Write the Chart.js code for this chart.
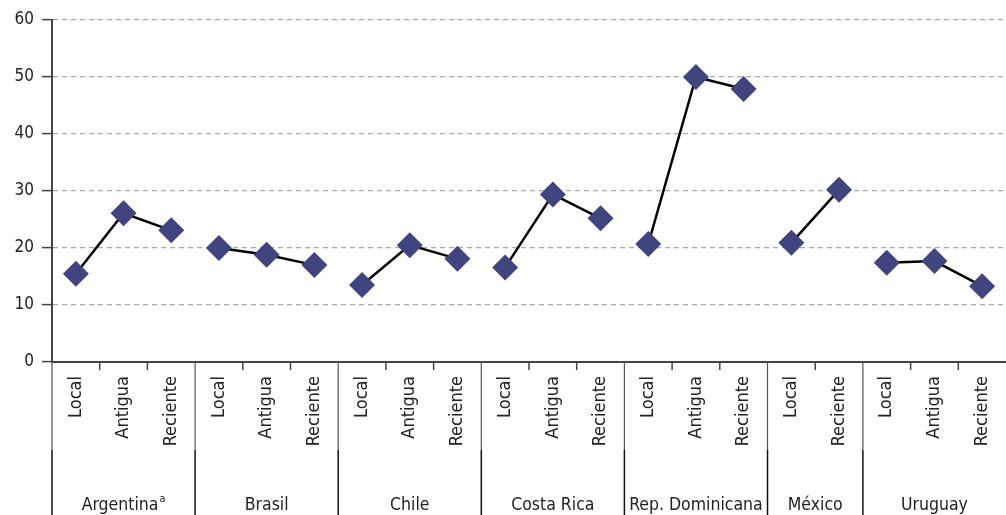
<!DOCTYPE html>
<html>
<head>
<meta charset="utf-8">
<script src="https://cdn.jsdelivr.net/npm/chart.js@4"></script>
<style>
  body { margin: 0; background: #fff; }
  #wrap { width: 1006px; height: 515px; position: relative; }
</style>
</head>
<body>
<div id="wrap"><canvas id="chart"></canvas></div>
<script>
// datos por país
const countries = ['Argentina', 'Brasil', 'Chile', 'Costa Rica', 'Rep. Dominicana', 'México', 'Uruguay'];
const countryNotes = ['a', '', '', '', '', '', ''];
const periods = [
  ['Local', 'Antigua', 'Reciente'],
  ['Local', 'Antigua', 'Reciente'],
  ['Local', 'Antigua', 'Reciente'],
  ['Local', 'Antigua', 'Reciente'],
  ['Local', 'Antigua', 'Reciente'],
  ['Local', 'Reciente'],
  ['Local', 'Antigua', 'Reciente']
];
const values = [
  [15.5, 26.1, 23.1],
  [20.0, 18.8, 17.0],
  [13.5, 20.5, 18.1],
  [16.6, 29.4, 25.2],
  [20.7, 50.0, 47.9],
  [20.9, 30.2],
  [17.4, 17.7, 13.3]
];
const yMin = 0, yMax = 60, yStep = 10;

const FONT = '"Liberation Sans Narrow", "DejaVu Sans Condensed", "Arial Narrow", sans-serif';
const TEXT = '#222';
const MARK = '#41447f';

// etiquetas planas y un dataset por país (líneas separadas)
const labels = periods.flat();
const datasets = [];
let start = 0;
countries.forEach((c, g) => {
  const data = labels.map(() => null);
  values[g].forEach((v, k) => { data[start + k] = v; });
  datasets.push({
    label: c,
    data: data,
    borderColor: '#000',
    borderWidth: 2.5,
    pointStyle: 'rectRot',
    pointRadius: 13,
    pointBackgroundColor: MARK,
    pointBorderColor: MARK,
    pointBorderWidth: 0,
    spanGaps: false
  });
  start += periods[g].length;
});

// grupos de países bajo el eje x
const groupPlugin = {
  id: 'groups',
  afterDraw(chart) {
    const { ctx, chartArea, scales: { x } } = chart;
    const base = chartArea.bottom;
    const half = (x.getPixelForValue(1) - x.getPixelForValue(0)) / 2;
    ctx.save();
    let i = 0;
    countries.forEach((name, g) => {
      const n = periods[g].length;
      const left = x.getPixelForValue(i) - half;
      const right = x.getPixelForValue(i + n - 1) + half;
      // separador
      ctx.strokeStyle = '#555';
      ctx.lineWidth = 1.2;
      ctx.beginPath();
      ctx.moveTo(left, base);
      ctx.lineTo(left, 450);
      ctx.stroke();
      ctx.strokeStyle = '#111';
      ctx.lineWidth = 1.5;
      ctx.beginPath();
      ctx.moveTo(left, 450);
      ctx.lineTo(left, chart.height);
      ctx.stroke();
      // marcas cortas dentro del grupo
      ctx.strokeStyle = '#444';
      ctx.lineWidth = 1.5;
      for (let j = i; j < i + n - 1; j++) {
        const px = x.getPixelForValue(j) + half;
        ctx.beginPath();
        ctx.moveTo(px, base);
        ctx.lineTo(px, base + 8);
        ctx.stroke();
      }
      // nombre del país
      ctx.fillStyle = TEXT;
      ctx.font = '17.5px ' + FONT;
      ctx.textBaseline = 'alphabetic';
      const note = countryNotes[g];
      const w = ctx.measureText(name).width;
      ctx.font = '11px ' + FONT;
      const nw = note ? ctx.measureText(note).width + 1 : 0;
      const cx = (left + right) / 2;
      const tx = cx - (w + nw) / 2;
      ctx.font = '17.5px ' + FONT;
      ctx.textAlign = 'left';
      ctx.fillText(name, tx, 510);
      if (note) {
        ctx.font = '11px ' + FONT;
        ctx.fillText(note, tx + w + 1, 502);
      }
      i += n;
    });
    ctx.restore();
  }
};

new Chart(document.getElementById('chart'), {
  type: 'line',
  data: { labels: labels, datasets: datasets },
  options: {
    responsive: true,
    maintainAspectRatio: false,
    animation: false,
    layout: { autoPadding: false, padding: { top: 20, right: 0, left: 0, bottom: 0 } },
    plugins: {
      legend: { display: false },
      tooltip: { enabled: false }
    },
    scales: {
      x: {
        type: 'category',
        offset: true,
        grid: { display: false, drawTicks: false },
        border: { display: true, color: '#444', width: 2 },
        ticks: {
          autoSkip: false,
          maxRotation: 90,
          minRotation: 90,
          padding: 14,
          color: TEXT,
          font: { family: FONT, size: 18 }
        },
        afterFit(scale) {
          scale.height = 153;
          scale.paddingRight = 0;
          scale.paddingLeft = 0;
        }
      },
      y: {
        min: yMin,
        max: yMax,
        ticks: {
          stepSize: yStep,
          padding: 8,
          color: TEXT,
          font: { family: FONT, size: 17 }
        },
        grid: {
          color: (c) => c.tick && c.tick.value === 0 ? 'rgba(0,0,0,0)' : '#aaa',
          lineWidth: 1.2,
          tickLength: 10,
          tickColor: '#444',
          tickWidth: 1.5
        },
        border: { display: true, color: '#444', width: 2, dash: [5, 4] },
        afterFit(scale) { scale.width = 52; }
      }
    }
  },
  plugins: [groupPlugin]
});
</script>
</body>
</html>
